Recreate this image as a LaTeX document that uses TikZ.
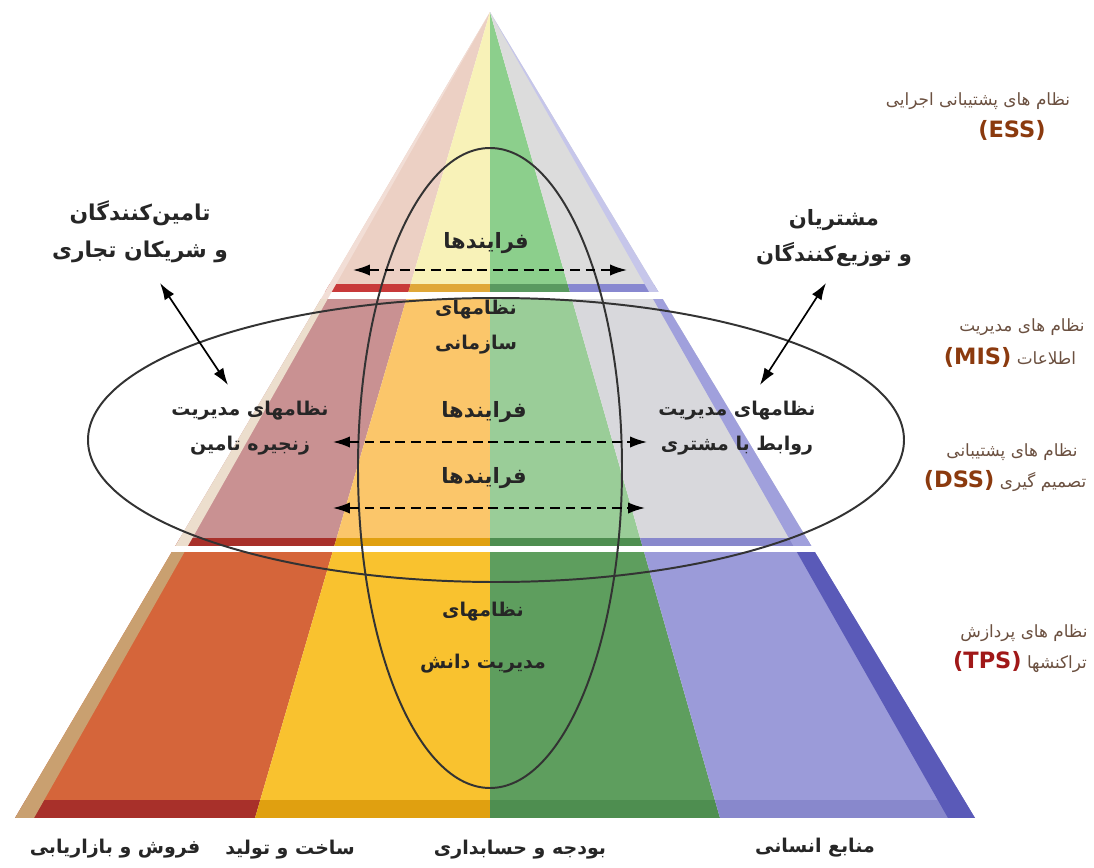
\documentclass[tikz,border=0pt]{standalone}
\usepackage{fontspec}
\usetikzlibrary{arrows.meta}
\TeXXeTstate=1
\newfontfamily\fafont[Script=Arabic]{DejaVu Sans}
\newfontfamily\lafont{DejaVu Sans}
\newcommand{\fa}[1]{{\beginR #1\endR}}

\definecolor{salesTop}{HTML}{ECD0C4}
\definecolor{salesMid}{HTML}{C99192}
\definecolor{salesLow}{HTML}{D5653A}
\definecolor{salesBand}{HTML}{C83A3A}
\definecolor{salesBase}{HTML}{A8302A}
\definecolor{manuTop}{HTML}{F8F2B8}
\definecolor{manuMid}{HTML}{FBC66A}
\definecolor{manuLow}{HTML}{F9C22F}
\definecolor{manuBand}{HTML}{E0A838}
\definecolor{manuBase}{HTML}{E0A010}
\definecolor{finTop}{HTML}{8CCF8C}
\definecolor{finMid}{HTML}{9ACD98}
\definecolor{finLow}{HTML}{5E9E5E}
\definecolor{finBand}{HTML}{5A9A60}
\definecolor{finBase}{HTML}{4E8E50}
\definecolor{hrTop}{HTML}{DCDCDC}
\definecolor{hrMid}{HTML}{D8D8DC}
\definecolor{hrLow}{HTML}{9B9BD9}
\definecolor{hrBand}{HTML}{8888D0}
\definecolor{hrBase}{HTML}{8888CC}
\definecolor{leftFace}{HTML}{C9A070}
\definecolor{rightFace}{HTML}{5A5AB8}
\definecolor{rightFaceMid}{HTML}{A0A0DC}
\definecolor{sideText}{HTML}{6B5040}
\definecolor{codeText}{HTML}{8B3A0E}
\definecolor{tpsText}{HTML}{A01818}

\tikzset{
  lbl/.style={font=\fafont\bfseries\fontsize{13.5}{25}\selectfont, text=black!85, align=center, inner sep=0pt},
  biglbl/.style={lbl, font=\fafont\bfseries\fontsize{15}{25}\selectfont},
  sidelbl/.style={font=\fafont\fontsize{12}{14}\selectfont, text=sideText, inner sep=0pt},
  codelbl/.style={font=\lafont\bfseries\fontsize{16}{16}\selectfont, text=codeText, inner sep=0pt},
  ring/.style={draw=black!80, line width=1.4pt},
  biarrow/.style={line width=1.2pt, {Latex[length=12pt,width=8pt]}-{Latex[length=12pt,width=8pt]}},
  flowarrow/.style={biarrow, dash pattern=on 7pt off 4pt},
}

\begin{document}
\begin{tikzpicture}[x={(0.025cm,0)}, y={(0,-0.025cm)}]
\useasboundingbox (0,0) rectangle (1094,868);

% pyramid corners
\coordinate (apex) at (490,12);
\coordinate (b0) at (15,818);
\coordinate (b1) at (255,818);
\coordinate (b2) at (490,818);
\coordinate (b3) at (720,818);
\coordinate (b4) at (975,818);
\coordinate (l1) at (34,818);
\coordinate (r1) at (948,818);

% columns, cut in three tiers
\foreach \bl/\br/\cc in {b0/b1/sales, b1/b2/manu, b2/b3/fin, b3/b4/hr}{
  \begin{scope}
    \clip (apex) -- (\bl) -- (\br) -- cycle;
    \fill[\cc Top] (0,0) rectangle (1094,284);
    \fill[\cc Band] (0,284) rectangle (1094,292);
    \fill[white] (0,292) rectangle (1094,299);
    \fill[\cc Mid] (0,299) rectangle (1094,538);
    \fill[\cc Base] (0,538) rectangle (1094,546);
    \fill[white] (0,546) rectangle (1094,552);
    \fill[\cc Low] (0,552) rectangle (1094,800);
    \fill[\cc Base] (0,800) rectangle (1094,818);
  \end{scope}
}

% side faces
\begin{scope}
  \clip (apex) -- (b0) -- (l1) -- cycle;
  \fill[salesTop!70!white] (0,0) rectangle (1094,299);
  \fill[leftFace!35!white] (0,299) rectangle (1094,546);
  \fill[leftFace] (0,552) rectangle (1094,818);
\end{scope}
\begin{scope}
  \clip (apex) -- (b4) -- (r1) -- cycle;
  \fill[rightFaceMid!60!white] (0,0) rectangle (1094,292);
  \fill[rightFaceMid] (0,299) rectangle (1094,546);
  \fill[rightFace] (0,552) rectangle (1094,818);
\end{scope}

% rings
\draw[ring] (490,468) ellipse [x radius=132, y radius=320];
\draw[ring] (496,440) ellipse [x radius=408, y radius=142];

% process arrows
\coordinate (p1l) at (353,270);
\coordinate (p1r) at (627,270);
\coordinate (p2l) at (333,442);
\coordinate (p2r) at (647,442);
\coordinate (p3l) at (333,508);
\coordinate (p3r) at (645,508);
\draw[flowarrow] (p1l) -- (p1r);
\draw[flowarrow] (p2l) -- (p2r);
\draw[flowarrow] (p3l) -- (p3r);

% partners
\node[lbl, font=\fafont\bfseries\fontsize{15.5}{26}\selectfont] (supp) at (140,232) {\fa{تامین‌کنندگان}\\\fa{و شریکان تجاری}};
\node[lbl, font=\fafont\bfseries\fontsize{15}{26}\selectfont] (cust) at (834,238) {\fa{مشتریان}\\\fa{و توزیع‌کنندگان}};
\coordinate (suppA) at (160,283);
\coordinate (suppB) at (228,385);
\coordinate (custA) at (826,283);
\coordinate (custB) at (760,385);
\draw[biarrow] (suppA) -- (suppB);
\draw[biarrow] (custA) -- (custB);

% inside the pyramid
\node[biglbl] (proc1) at (486,243) {\fa{فرایندها}};
\node[lbl] (org) at (476,327) {\fa{نظامهای}\\\fa{سازمانی}};
\node[biglbl] (proc2) at (484,412) {\fa{فرایندها}};
\node[biglbl] (proc3) at (484,478) {\fa{فرایندها}};
\node[lbl] (scm) at (250,428) {\fa{نظامهای مدیریت}\\\fa{زنجیره تامین}};
\node[lbl] (crm) at (737,428) {\fa{نظامهای مدیریت}\\\fa{روابط با مشتری}};
\node[lbl] (kms) at (483,638) {\fa{نظامهای}\\[12pt]\fa{مدیریت دانش}};

% functional areas
\node[lbl] (sales) at (115,849) {\fa{فروش و بازاریابی}};
\node[lbl] (manu) at (290,850) {\fa{ساخت و تولید}};
\node[lbl] (fin) at (520,850) {\fa{بودجه و حسابداری}};
\node[lbl] (hr) at (815,848) {\fa{منابع انسانی}};

% system levels
\node[sidelbl] (essA) at (978,101) {\fa{نظام های پشتیبانی اجرایی}};
\node[codelbl] (essB) at (1012,130) {(ESS)};
\node[sidelbl] (misA) at (1022,327) {\fa{نظام های مدیریت}};
\node[sidelbl] (misB) at (1010,357) {\fa{اطلاعات \beginL{\lafont\bfseries\fontsize{16}{16}\selectfont\color{codeText}(MIS)}\endL}};
\node[sidelbl] (dssA) at (1012,452) {\fa{نظام های پشتیبانی}};
\node[sidelbl] (dssB) at (1005,481) {\fa{تصمیم گیری \beginL{\lafont\bfseries\fontsize{16}{16}\selectfont\color{codeText}(DSS)}\endL}};
\node[sidelbl] (tpsA) at (1024,633) {\fa{نظام های پردازش}};
\node[sidelbl] (tpsB) at (1020,662) {\fa{تراکنشها \beginL{\lafont\bfseries\fontsize{16}{16}\selectfont\color{tpsText}(TPS)}\endL}};
\end{tikzpicture}
\end{document}
